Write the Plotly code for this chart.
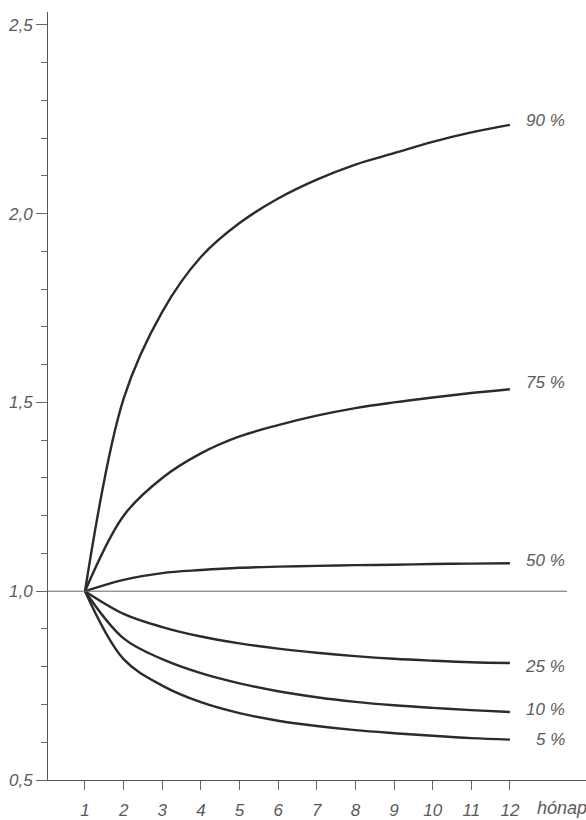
import plotly.graph_objects as go

months = [1, 2, 3, 4, 5, 6, 7, 8, 9, 10, 11, 12]
month_labels = ["1", "2", "3", "4", "5", "6", "7", "8", "9", "10", "11", "12"]
y_ticks = [0.5, 1.0, 1.5, 2.0, 2.5]

p90 = [1.0, 1.51, 1.74, 1.885, 1.975, 2.04, 2.09, 2.13, 2.16, 2.19, 2.215, 2.235]
p75 = [1.0, 1.20, 1.30, 1.365, 1.41, 1.44, 1.465, 1.485, 1.50, 1.513, 1.525, 1.535]
p50 = [1.0, 1.03, 1.048, 1.056, 1.062, 1.065, 1.067, 1.069, 1.07, 1.072, 1.073, 1.074]
p25 = [1.0, 0.94, 0.905, 0.88, 0.862, 0.848, 0.837, 0.828, 0.821, 0.816, 0.812, 0.81]
p10 = [1.0, 0.875, 0.82, 0.783, 0.756, 0.735, 0.719, 0.707, 0.698, 0.691, 0.685, 0.68]
p05 = [1.0, 0.82, 0.75, 0.706, 0.677, 0.657, 0.643, 0.632, 0.624, 0.617, 0.611, 0.607]

series = [("90 %", p90), ("75 %", p75), ("50 %", p50),
          ("25 %", p25), ("10 %", p10), ("5 %", p05)]
label_yshift = [4, 7, 3, -4, 3, 0]

FONT = "Liberation Sans"
TXT = "#5a5a5a"
LINE = "#2b2b2b"

fig = go.Figure()

for (name, vals), ys in zip(series, label_yshift):
    fig.add_trace(go.Scatter(x=months, y=vals, mode="lines", name=name,
                             line=dict(color=LINE, width=2.4, shape="spline", smoothing=1.0),
                             showlegend=False))
    fig.add_annotation(x=0.9647, xref="paper", y=vals[-1], yref="y",
                       text=name, showarrow=False, xanchor="right", yanchor="middle",
                       yshift=ys,
                       font=dict(family=FONT, size=17, color=TXT, style="italic"))

# reference line at 1.0
fig.add_shape(type="line", xref="paper", x0=0, x1=0.9647, yref="y", y0=1.0, y1=1.0,
              line=dict(color="#666666", width=1))

fig.add_annotation(x=0.905, xref="paper", y=-0.0365, yref="paper", text="hónap",
                   showarrow=False, xanchor="left", yanchor="middle",
                   font=dict(family=FONT, size=18, color=TXT, style="italic"))

fig.update_layout(
    width=586, height=820,
    margin=dict(l=48, r=0, t=12, b=37),
    paper_bgcolor="white", plot_bgcolor="white",
    separators=", ",
    xaxis=dict(range=[0.0424, 13.97], tickvals=months, ticktext=month_labels,
               ticks="outside", ticklen=9, tickcolor="#666666", tickwidth=1,
               ticklabelstandoff=6,
               showline=True, linecolor="#555555", linewidth=1,
               showgrid=False, zeroline=False,
               tickfont=dict(family=FONT, size=17, color=TXT, style="italic")),
    yaxis=dict(range=[0.5, 2.534], tickvals=y_ticks, tickformat=".1f",
               ticks="outside", ticklen=11, tickcolor="#666666", tickwidth=1,
               minor=dict(dtick=0.1, tick0=0.5, ticks="outside", ticklen=6,
                          tickcolor="#666666"),
               showline=True, linecolor="#555555", linewidth=1,
               showgrid=False, zeroline=False,
               tickfont=dict(family=FONT, size=17, color=TXT, style="italic")),
)

fig.write_html("out.html", config={"displayModeBar": False},
               post_script="document.body.style.margin='0';")
